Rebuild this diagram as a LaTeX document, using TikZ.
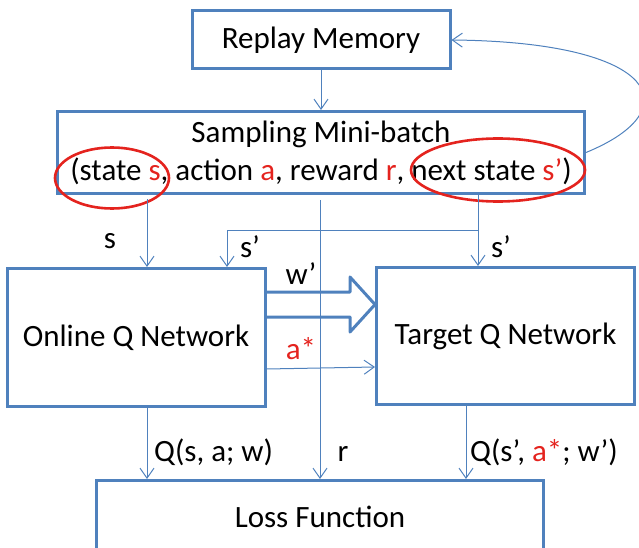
\documentclass[tikz,border=0pt]{standalone}
\usepackage{fontspec}
\setmainfont{Carlito}
\usetikzlibrary{arrows.meta,shapes.geometric}
\definecolor{bl}{RGB}{79,129,189}
\definecolor{rd}{RGB}{228,35,30}
\newcommand{\rt}[1]{\textcolor{rd}{#1}}
\begin{document}
\begin{tikzpicture}[x=1pt,y=-1pt,
  box/.style={draw=bl, line width=3pt, inner sep=0pt, align=center, font=\fontsize{31}{38}\selectfont},
  lbl/.style={inner sep=0pt, font=\fontsize{31}{38}\selectfont},
  arr/.style={draw=bl, line width=1pt, -{Straight Barb[length=10pt,width=14pt]}},
  mark ring/.style={ellipse, draw=rd, line width=2.6pt, inner sep=0pt}]
\useasboundingbox (0,0) rectangle (639,548);
% boxes
\node[box, minimum width=258pt, minimum height=58pt] (rm) at (321,40) {Replay Memory};
\node[box, minimum width=527pt, minimum height=82pt] (smb) at (321,152.5)
  {Sampling Mini-batch\\(state \rt{s}, action \rt{a}, reward \rt{r}, next state \rt{s’})};
\node[box, minimum width=258pt, minimum height=138pt] (oq) at (136,337.5) {Online Q Network};
\node[box, minimum width=258pt, minimum height=137pt] (tq) at (505.5,336) {Target Q Network};
\node[box, minimum width=447pt, minimum height=73pt] (lf) at (320,517) {Loss Function};
% red rings
\node[mark ring, minimum width=114pt, minimum height=61pt] (e1) at (112,178) {};
\node[mark ring, minimum width=174pt, minimum height=63pt] (e2) at (498,170) {};
% helper coordinates
\coordinate (xs) at (147,0);
\coordinate (xsp) at (478,0);
\coordinate (br) at (478,230);
\coordinate (xb) at (227,0);
\coordinate (xq) at (466,0);
% connectors
\draw[arr] (rm.south) -- (smb.north);
\draw[arr] (smb.east) .. controls (690,110) and (660,42) .. (rm.east);
\draw[arr, shorten <=4pt] (xs |- smb.south) -- (xs |- oq.north);
\draw[arr] (xsp |- smb.south) -- (xsp |- tq.north);
\draw[arr] (br) -| (xb |- oq.north);
\draw[arr] (xs |- oq.south) -- (xs |- lf.north);
\draw[arr] (xq |- tq.south) -- (xq |- lf.north);
\draw[arr] (oq.east |- 0,369) -- (tq.west |- 0,367);
% w' block arrow
\draw[draw=bl, line width=3pt, line join=round]
  (oq.east |- 0,292) -- (350,292) -- (350,277) -- (tq.west |- 0,304.5)
  -- (350,332) -- (350,317) -- (oq.east |- 0,317);
\draw[arr, shorten <=5pt] (lf.north |- smb.south) -- (lf.north);
% labels
\node[lbl, anchor=base] (ls) at (110,248) {s};
\node[lbl, anchor=base] (lsp1) at (250,257) {s’};
\node[lbl, anchor=base] (lsp2) at (501,257) {s’};
\node[lbl, anchor=base] (lw) at (301,284) {w’};
\node[lbl, anchor=base] (la) at (301,359) {\rt{a*}};
\node[lbl, anchor=base west] (lq1) at (154,461) {Q(s, a; w)};
\node[lbl, anchor=base] (lr) at (343,461) {r};
\node[lbl, anchor=base west] (lq2) at (470,461) {Q(s’, \rt{a*}; w’)};
\end{tikzpicture}
\end{document}
